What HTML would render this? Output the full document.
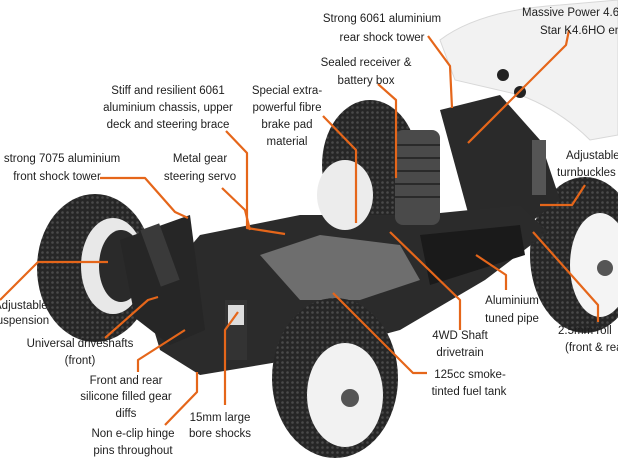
<!DOCTYPE html>
<html><head><style>
html,body{margin:0;padding:0;background:#fff;}
svg{display:block}
text{font-family:"Liberation Sans",sans-serif;font-size:11.5px;fill:#1e1e1e;}
</style></head><body>
<svg width="618" height="464" viewBox="0 0 618 464" xmlns="http://www.w3.org/2000/svg">
<defs>
<pattern id="tread" width="5" height="5" patternUnits="userSpaceOnUse">
<rect width="5" height="5" fill="#262626"/><circle cx="2.5" cy="2.5" r="1.3" fill="#4a4a4a"/>
</pattern>
</defs>
<path d="M440,40 Q480,10 560,5 L618,0 L618,135 L590,140 Q560,110 520,95 L455,80 Z" fill="#f2f2f2" stroke="#d8d8d8"/>
<circle cx="503" cy="75" r="6" fill="#222"/><circle cx="520" cy="92" r="6" fill="#222"/>
<ellipse cx="370" cy="165" rx="48" ry="65" fill="url(#tread)"/>
<ellipse cx="585" cy="255" rx="55" ry="78" fill="url(#tread)"/>
<ellipse cx="600" cy="265" rx="30" ry="52" fill="#f4f4f4"/>
<circle cx="605" cy="268" r="8" fill="#555"/>
<path d="M440,110 L500,95 L540,140 L560,200 L520,230 L470,220 Z" fill="#2a2a2a"/>
<rect x="532" y="140" width="14" height="55" fill="#555"/>
<path d="M145,300 L200,235 L300,215 L420,215 L520,205 L548,232 L485,280 L400,330 L290,360 L200,375 L160,350 Z" fill="#2b2b2b"/>
<path d="M260,255 L320,235 L400,245 L420,280 L360,300 L300,300 Z" fill="#6e6e6e"/>
<path d="M420,235 L520,225 L525,255 L430,285 Z" fill="#1a1a1a"/>
<ellipse cx="345" cy="195" rx="28" ry="35" fill="#ececec"/>
<rect x="395" y="130" width="45" height="95" rx="8" fill="#4a4a4a"/>
<g stroke="#2a2a2a" stroke-width="2">
<line x1="395" y1="145" x2="440" y2="145"/><line x1="395" y1="158" x2="440" y2="158"/><line x1="395" y1="171" x2="440" y2="171"/><line x1="395" y1="184" x2="440" y2="184"/><line x1="395" y1="197" x2="440" y2="197"/>
</g>
<ellipse cx="95" cy="268" rx="58" ry="74" fill="url(#tread)"/>
<ellipse cx="113" cy="266" rx="32" ry="48" fill="#e8e8e8"/>
<ellipse cx="121" cy="266" rx="22" ry="36" fill="#2a2a2a"/>
<path d="M120,240 L190,215 L205,330 L170,345 L135,318 Z" fill="#262626"/>
<rect x="150" y="225" width="20" height="60" fill="#3a3a3a" transform="rotate(-20 160 255)"/>
<rect x="225" y="300" width="22" height="60" fill="#333"/>
<rect x="228" y="305" width="16" height="20" fill="#ddd"/>
<ellipse cx="335" cy="378" rx="63" ry="80" fill="url(#tread)"/>
<ellipse cx="345" cy="395" rx="38" ry="52" fill="#f2f2f2"/>
<circle cx="350" cy="398" r="9" fill="#555"/>
<g fill="none" stroke="#e5661a" stroke-width="2.2" stroke-linejoin="round">
<polyline points="428,36 450,66 452,108"/>
<polyline points="569,30 566,45 468,143"/>
<polyline points="378,84 396,100 396,178"/>
<polyline points="226,131 247,153 247,228 285,234"/>
<polyline points="323,116 356,150 356,223"/>
<polyline points="100,178 145,178 175,212 188,218"/>
<polyline points="222,188 245,210 250,230"/>
<polyline points="585,185 572,205 540,205"/>
<polyline points="0,300 38,262 108,262"/>
<polyline points="105,338 148,300 158,297"/>
<polyline points="138,372 138,360 185,330"/>
<polyline points="165,425 197,392 197,372"/>
<polyline points="225,405 225,330 238,312"/>
<polyline points="427,373 413,373 333,293"/>
<polyline points="460,330 460,300 390,232"/>
<polyline points="506,290 506,275 476,255"/>
<polyline points="598,322 598,305 533,232"/>
</g>
<g text-anchor="middle">
<text x="382" y="22">Strong 6061 aluminium</text>
<text x="382" y="41">rear shock tower</text>
<text x="366" y="66">Sealed receiver &amp;</text>
<text x="366" y="84">battery box</text>
<text x="168" y="94">Stiff and resilient 6061</text>
<text x="168" y="111">aluminium chassis, upper</text>
<text x="168" y="128">deck and steering brace</text>
<text x="287" y="94">Special extra-</text>
<text x="287" y="111">powerful fibre</text>
<text x="287" y="128">brake pad</text>
<text x="287" y="145">material</text>
<text x="200" y="162">Metal gear</text>
<text x="200" y="180">steering servo</text>
<text x="80" y="347">Universal driveshafts</text>
<text x="80" y="364">(front)</text>
<text x="512" y="304">Aluminium</text>
<text x="512" y="322">tuned pipe</text>
<text x="460" y="339">4WD Shaft</text>
<text x="460" y="356">drivetrain</text>
<text x="470" y="378">125cc smoke-</text>
<text x="469" y="395">tinted fuel tank</text>
<text x="126" y="384">Front and rear</text>
<text x="126" y="400">silicone filled gear</text>
<text x="126" y="417">diffs</text>
<text x="220" y="421">15mm large</text>
<text x="220" y="437">bore shocks</text>
<text x="133" y="437">Non e-clip hinge</text>
<text x="133" y="454">pins throughout</text>
<text x="62" y="162">strong 7075 aluminium</text>
<text x="57" y="180">front shock tower</text>
</g>
<text x="522" y="16">Massive Power 4.6</text>
<text x="540" y="34">Star K4.6HO engine</text>
<text x="566" y="159">Adjustable</text>
<text x="557" y="176">turnbuckles</text>
<text x="-6" y="309">Adjustable</text>
<text x="-9" y="324">suspension</text>
<text x="558" y="334">2.5mm roll</text>
<text x="565" y="351">(front &amp; rear)</text>
</svg>
</body></html>
